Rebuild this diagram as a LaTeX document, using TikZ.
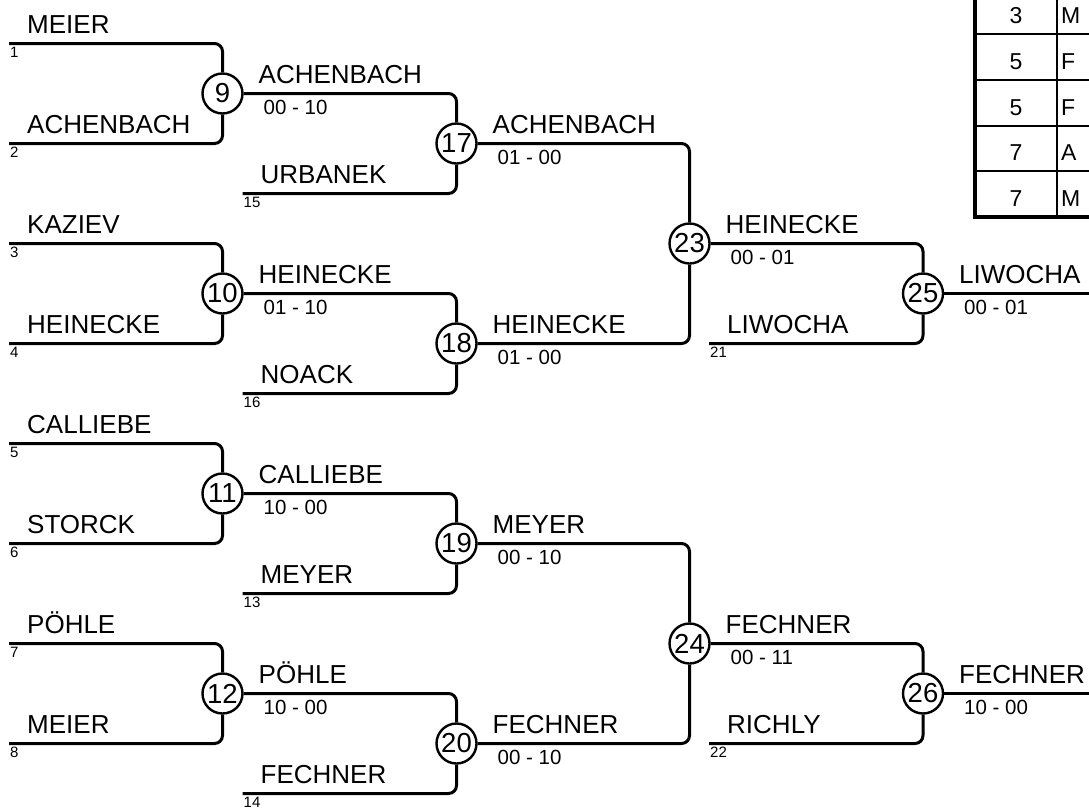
\documentclass[tikz,border=0pt]{standalone}
\usepackage{fontspec}
\setmainfont{Liberation Sans}
\tikzset{
  ln/.style={line width=3pt, rounded corners=8pt},
  mc/.style={circle, draw, line width=2.4pt, fill=white, minimum size=40pt, inner sep=0pt, font=\fontsize{27.5}{27.5}\selectfont},
  nm/.style={anchor=base west, inner sep=0pt, font=\fontsize{26}{26}\selectfont},
  sc/.style={anchor=base west, inner sep=0pt, font=\fontsize{20.5}{20.5}\selectfont},
  ix/.style={anchor=base west, inner sep=0pt, font=\fontsize{15}{15}\selectfont},
  tb/.style={anchor=base, inner sep=0pt, font=\fontsize{23}{23}\selectfont},
  tl/.style={anchor=base west, inner sep=0pt, font=\fontsize{23}{23}\selectfont},
}
% entry: coordinate name, x, y, player, index
\newcommand\plr[5]{%
  \coordinate (#1) at (#2,#3);
  \node[nm] (#1n) at ({#2+18},{#3-10}) {#4};
  \node[ix] (#1i) at ({#2+1},{#3+14}) {#5};
}
% winner label: circle name, circle x, y, player, score
\newcommand\wlab[5]{%
  \node[nm] (#1w) at ({#2+36},{#3-10}) {#4};
  \node[sc] (#1s) at ({#2+41},{#3+21}) {#5};
}
\begin{document}
\begin{tikzpicture}[x=1pt,y=-1pt]
\useasboundingbox (0,0) rectangle (1089,807);
\clip (0,0) rectangle (1089,807);

% round 1 entries
\plr{e1}{9}{43.5}{MEIER}{1}
\plr{e2}{9}{143.5}{ACHENBACH}{2}
\plr{e3}{9}{243.5}{KAZIEV}{3}
\plr{e4}{9}{343.5}{HEINECKE}{4}
\plr{e5}{9}{443.5}{CALLIEBE}{5}
\plr{e6}{9}{543.5}{STORCK}{6}
\plr{e7}{9}{643.5}{PÖHLE}{7}
\plr{e8}{9}{743.5}{MEIER}{8}
% later entries
\plr{e15}{242.5}{193.5}{URBANEK}{15}
\plr{e16}{242.5}{393.5}{NOACK}{16}
\plr{e13}{242.5}{593.5}{MEYER}{13}
\plr{e14}{242.5}{793.5}{FECHNER}{14}
\plr{e21}{709}{343.5}{LIWOCHA}{21}
\plr{e22}{709}{743.5}{RICHLY}{22}

% match circles
\node[mc] (m9)  at (222.5,93.5)  {9};
\node[mc] (m10) at (222.5,293.5) {10};
\node[mc] (m11) at (222.5,493.5) {11};
\node[mc] (m12) at (222.5,693.5) {12};
\node[mc] (m17) at (456.5,143.5) {17};
\node[mc] (m18) at (456.5,343.5) {18};
\node[mc] (m19) at (456.5,543.5) {19};
\node[mc] (m20) at (456.5,743.5) {20};
\node[mc] (m23) at (689.5,243.5) {23};
\node[mc] (m24) at (689.5,643.5) {24};
\node[mc] (m25) at (923,293.5) {25};
\node[mc] (m26) at (923,693.5) {26};
\coordinate (o25) at (1100,293.5);
\coordinate (o26) at (1100,693.5);

% connectors
\draw[ln] (e1) -| (m9.north);
\draw[ln] (e2) -| (m9.south);
\draw[ln] (e3) -| (m10.north);
\draw[ln] (e4) -| (m10.south);
\draw[ln] (e5) -| (m11.north);
\draw[ln] (e6) -| (m11.south);
\draw[ln] (e7) -| (m12.north);
\draw[ln] (e8) -| (m12.south);
\draw[ln] (m9.east) -| (m17.north);
\draw[ln] (e15) -| (m17.south);
\draw[ln] (m10.east) -| (m18.north);
\draw[ln] (e16) -| (m18.south);
\draw[ln] (m11.east) -| (m19.north);
\draw[ln] (e13) -| (m19.south);
\draw[ln] (m12.east) -| (m20.north);
\draw[ln] (e14) -| (m20.south);
\draw[ln] (m17.east) -| (m23.north);
\draw[ln] (m18.east) -| (m23.south);
\draw[ln] (m19.east) -| (m24.north);
\draw[ln] (m20.east) -| (m24.south);
\draw[ln] (m23.east) -| (m25.north);
\draw[ln] (e21) -| (m25.south);
\draw[ln] (m24.east) -| (m26.north);
\draw[ln] (e22) -| (m26.south);
\draw[ln] (m25.east) -- (o25);
\draw[ln] (m26.east) -- (o26);

% winner labels
\wlab{m9}{222.5}{93.5}{ACHENBACH}{00 - 10}
\wlab{m10}{222.5}{293.5}{HEINECKE}{01 - 10}
\wlab{m11}{222.5}{493.5}{CALLIEBE}{10 - 00}
\wlab{m12}{222.5}{693.5}{PÖHLE}{10 - 00}
\wlab{m17}{456.5}{143.5}{ACHENBACH}{01 - 00}
\wlab{m18}{456.5}{343.5}{HEINECKE}{01 - 00}
\wlab{m19}{456.5}{543.5}{MEYER}{00 - 10}
\wlab{m20}{456.5}{743.5}{FECHNER}{00 - 10}
\wlab{m23}{689.5}{243.5}{HEINECKE}{00 - 01}
\wlab{m24}{689.5}{643.5}{FECHNER}{00 - 11}
\wlab{m25}{923}{293.5}{LIWOCHA}{00 - 01}
\wlab{m26}{923}{693.5}{FECHNER}{10 - 00}

% ranking table (cut by the page edge)
\draw[line width=2.5pt] (975,34) -- (1100,34)
  (975,80) -- (1100,80)
  (975,126) -- (1100,126)
  (975,171) -- (1100,171)
  (1057,-20) -- (1057,217);
\draw[line width=4.5pt] (975,-20) -- (975,217) -- (1100,217);
\node[tb] (r1) at (1016,23) {3};
\node[tb] (r2) at (1016,69) {5};
\node[tb] (r3) at (1016,115) {5};
\node[tb] (r4) at (1016,160) {7};
\node[tb] (r5) at (1016,206) {7};
\node[tl] (s1) at (1061,23) {M};
\node[tl] (s2) at (1061,69) {F};
\node[tl] (s3) at (1061,115) {F};
\node[tl] (s4) at (1061,160) {A};
\node[tl] (s5) at (1061,206) {M};
\end{tikzpicture}
\end{document}
